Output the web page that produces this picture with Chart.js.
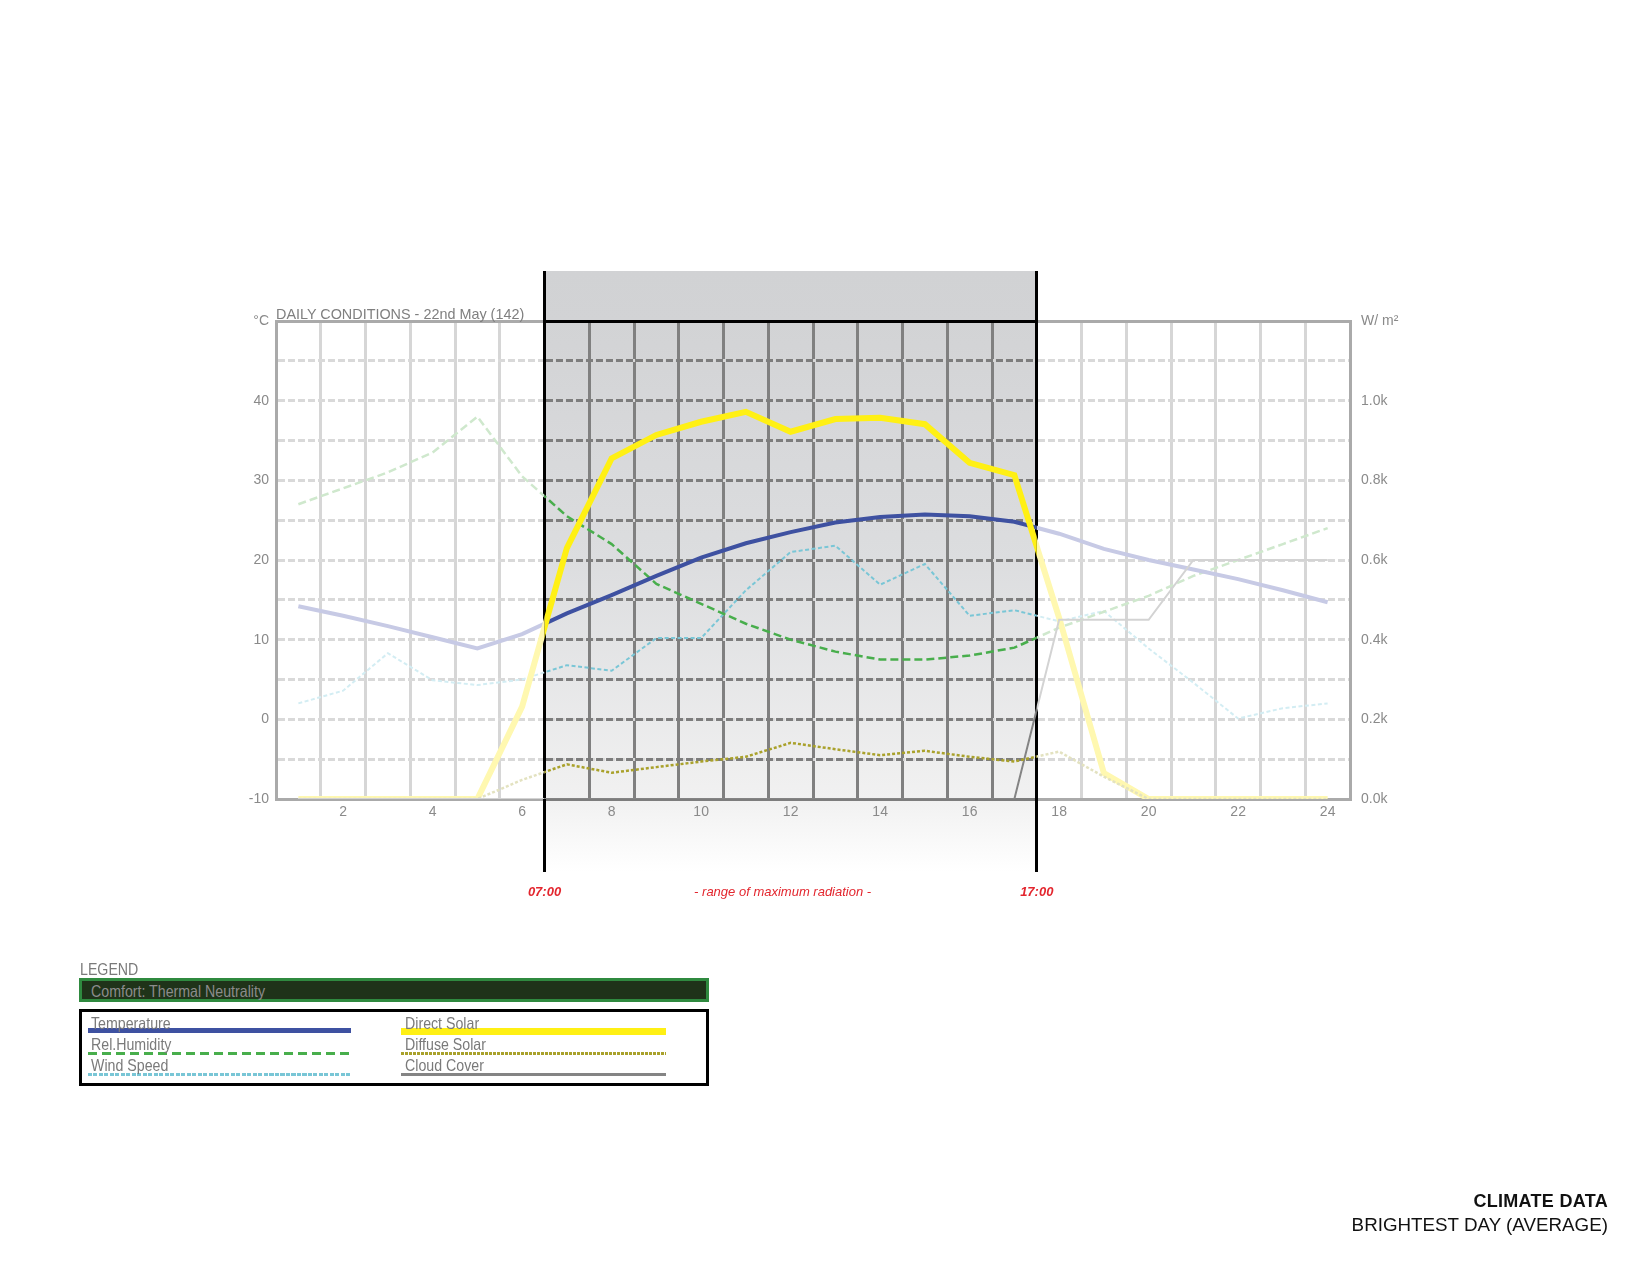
<!DOCTYPE html>
<html>
<head>
<meta charset="utf-8">
<title>Climate data - brightest day</title>
<script src="https://cdn.jsdelivr.net/npm/chart.js@4.4.1/dist/chart.umd.min.js"></script>
<style>
    body { margin: 0; background: #fff; font-family: "Liberation Sans", Arial, sans-serif; }
    #page { position: relative; width: 1651px; height: 1273px; overflow: hidden; }
    #chart { position: absolute; left: 0; top: 0; display: block; }
    .txt { position: absolute; white-space: nowrap; }
    .narrow { font-size: 16.5px; line-height: 16.5px; color: #7a7a7a; transform: scaleX(0.86); transform-origin: 0 0; }
    #chart-title { left: 276px; top: 307px; font-size: 14.4px; line-height: 14px; color: #7f7f7f; }
    #comfort { position: absolute; left: 79px; top: 978px; width: 630px; height: 24px; box-sizing: border-box;
               border: 3px solid #2f8a3f; background: #1f3319; }
    #legend-box { position: absolute; left: 79px; top: 1009px; width: 630px; height: 77px; box-sizing: border-box;
                  border: 3px solid #000; }
    .legend-line { position: absolute; }
    #sheet-title { right: 43px; top: 1193px; font-size: 18px; line-height: 16px; font-weight: bold; letter-spacing: 0.3px; color: #111; text-align: right; }
    #sheet-sub { right: 43px; top: 1216px; font-size: 18.8px; line-height: 18.8px; color: #111; text-align: right; }
</style>
</head>
<body>
<div id="page">
    <canvas id="chart" width="1651" height="1273"></canvas>
    <div class="txt" id="chart-title">DAILY CONDITIONS - 22nd May (142)</div>
    <div class="txt narrow" style="left:80px; top:961px;">LEGEND</div>
    <div id="comfort"></div>
    <div class="txt narrow" style="left:91px; top:983px; color:#8c8c8c;">Comfort: Thermal Neutrality</div>
    <div id="legend-box"></div>
    <div id="legend-items"></div>
    <div class="txt" id="sheet-title">CLIMATE DATA</div>
    <div class="txt" id="sheet-sub">BRIGHTEST DAY (AVERAGE)</div>
</div>

<script>
// Hourly values, 22nd May (hour of day 1..24)
const HOURS = [1, 2, 3, 4, 5, 6, 7, 8, 9, 10, 11, 12, 13, 14, 15, 16, 17, 18, 19, 20, 21, 22, 23, 24];

const TEMPERATURE = [14.2, 13.0, 11.7, 10.3, 8.9, 10.7, 13.3, 15.6, 18.0, 20.3, 22.1, 23.5,
                     24.7, 25.4, 25.7, 25.5, 24.8, 23.3, 21.4, 20.0, 18.8, 17.6, 16.2, 14.7];       // °C
const REL_HUMIDITY = [74, 78, 82, 87, 96, 81, 71, 64, 54, 49, 44, 40,
                      37, 35, 35, 36, 38, 43, 47, 51, 56, 60, 64, 68];                            // %
const WIND_SPEED = [2.0, 3.6, 8.3, 4.9, 4.3, 5.0, 6.8, 6.1, 10.2, 10.2, 16.2, 21.0,
                    21.8, 16.9, 19.5, 13.0, 13.7, 12.3, 13.6, 8.9, 4.6, 0.1, 1.4, 2.0];
const DIRECT_SOLAR = [0, 0, 0, 0, 0, 232, 630, 855, 914, 947, 972, 922,
                      954, 957, 941, 844, 813, 455, 65, 0, 0, 0, 0, 0];                           // W/m²
const DIFFUSE_SOLAR = [0, 0, 0, 0, 0, 48, 87, 66, 80, 94, 106, 141,
                       125, 110, 121, 106, 94, 119, 56, 0, 0, 0, 0, 0];                           // W/m²
const CLOUD_COVER = [0, 0, 0, 0, 0, 0, 0, 0, 0, 0, 0, 0,
                     0, 0, 0, 0, 0, 45, 45, 45, 60, 60, 60, 60];                                  // %

// first and last hour of the range of maximum radiation
const MAX_RADIATION_HOURS = [7, 17];
const WINDOW_LABELS = ['07:00', '17:00'];
const WINDOW_CAPTION = '- range of maximum radiation -';

// axis labels
const X_LABEL_HOURS = [2, 4, 6, 8, 10, 12, 14, 16, 18, 20, 22, 24];
const TEMP_LABELS = [-10, 0, 10, 20, 30, 40];
const SOLAR_LABELS = [0, 200, 400, 600, 800, 1000];

// drawing styles, topmost first
const SERIES = [
    { label: 'Direct Solar', data: DIRECT_SOLAR, axis: 'y1', color: '#fff014', faded: '#fff8b0', width: 6, dash: [], fadedOrder: 2, legend: { col: 1, row: 0, h: 7, dash: null } },
    { label: 'Temperature', data: TEMPERATURE, axis: 'y', color: '#3e51a1', faded: '#c7cae5', width: 4, dash: [], fadedOrder: 3, legend: { col: 0, row: 0, h: 5, dash: null } },
    { label: 'Rel.Humidity', data: REL_HUMIDITY, axis: 'yPct', color: '#48ae4c', faded: '#cfe8cd', width: 2.5, dash: [8, 4], fadedOrder: 4, legend: { col: 0, row: 1, h: 3, dash: [9, 5] } },
    { label: 'Wind Speed', data: WIND_SPEED, axis: 'y', color: '#79c6d6', faded: '#d3edf3', width: 2, dash: [4, 2.5], fadedOrder: 5, legend: { col: 0, row: 2, h: 3, dash: [4, 1.5] } },
    { label: 'Diffuse Solar', data: DIFFUSE_SOLAR, axis: 'y1', color: '#a9a12b', faded: '#e3e2c0', width: 2.5, dash: [3, 2], fadedOrder: 1, legend: { col: 1, row: 1, h: 3, dash: [3, 1] } },
    { label: 'Cloud Cover', data: CLOUD_COVER, axis: 'yPct', color: '#848484', faded: '#d3d3d3', width: 2, dash: [], fadedOrder: 0, legend: { col: 1, row: 2, h: 3, dash: null } }
];

const points = values => HOURS.map((h, i) => ({ x: h, y: values[i] }));
const alignPx = (v, w) => Math.round(v - w / 2) + w / 2;

function windowEdges(chart) {
    const x = chart.scales.x;
    return [x.getPixelForValue(MAX_RADIATION_HOURS[0] - 0.5), x.getPixelForValue(MAX_RADIATION_HOURS[1] + 0.5)];
}

// shaded band, dark grid, black frame and captions for the radiation window
const radiationWindow = {
    id: 'radiationWindow',
    beforeDraw(chart) {
        const { ctx, chartArea: a } = chart;
        const [x0, x1] = windowEdges(chart);
        const top = a.top - 50, bottom = a.bottom + 73;
        const f = y => (y - top) / (bottom - top);
        const g = ctx.createLinearGradient(0, top, 0, bottom);
        g.addColorStop(0, '#d1d2d4');
        g.addColorStop(f(a.top), '#d2d3d5');
        g.addColorStop(f((a.top + a.bottom) / 2), '#dcdddf');
        g.addColorStop(f(a.bottom), '#f1f1f1');
        g.addColorStop(1, '#ffffff');
        ctx.save();
        ctx.fillStyle = g;
        ctx.fillRect(x0, top, x1 - x0, bottom - top);
        ctx.restore();
    },
    beforeDatasetsDraw(chart) {
        const { ctx, chartArea: a, scales: { y } } = chart;
        const [x0, x1] = windowEdges(chart);
        ctx.save();
        ctx.beginPath();
        ctx.rect(x0, a.top - 5, x1 - x0, a.bottom - a.top + 10);
        ctx.clip();
        ctx.strokeStyle = '#7d7d7d';
        ctx.lineWidth = 3;
        ctx.setLineDash([7, 3]);
        ctx.beginPath();
        y.ticks.forEach(t => {
            if (t.value <= y.min || t.value >= y.max) return;
            const py = alignPx(y.getPixelForValue(t.value), 3);
            ctx.moveTo(a.left, py);
            ctx.lineTo(a.right, py);
        });
        ctx.stroke();
        ctx.setLineDash([]);
        ctx.beginPath();
        ctx.moveTo(x0, alignPx(a.bottom, 3));
        ctx.lineTo(x1, alignPx(a.bottom, 3));
        ctx.stroke();
        ctx.strokeStyle = '#000';
        ctx.beginPath();
        ctx.moveTo(x0, alignPx(a.top, 3));
        ctx.lineTo(x1, alignPx(a.top, 3));
        ctx.stroke();
        ctx.restore();

        ctx.save();
        ctx.strokeStyle = '#000';
        ctx.lineWidth = 3;
        ctx.beginPath();
        [x0, x1].forEach(xp => {
            ctx.moveTo(alignPx(xp, 3), a.top - 50);
            ctx.lineTo(alignPx(xp, 3), a.bottom + 73);
        });
        ctx.stroke();
        ctx.restore();
    },
    beforeDatasetDraw(chart, args) {
        const ds = chart.data.datasets[args.index];
        const { ctx, width, height } = chart;
        const [x0, x1] = windowEdges(chart);
        ctx.save();
        ctx.beginPath();
        if (ds.layer === 'bright') {
            ctx.rect(x0, 0, x1 - x0, height);
            ctx.clip();
        } else {
            ctx.rect(0, 0, width, height);
            ctx.rect(x0, 0, x1 - x0, height);
            ctx.clip('evenodd');
        }
    },
    afterDatasetDraw(chart) {
        chart.ctx.restore();
    },
    afterDraw(chart) {
        const { ctx, chartArea: a } = chart;
        const [x0, x1] = windowEdges(chart);
        const ty = a.bottom + 93;
        ctx.save();
        ctx.fillStyle = '#e3262e';
        ctx.textAlign = 'center';
        ctx.textBaseline = 'middle';
        ctx.font = 'italic bold 13px "Liberation Sans", Arial, sans-serif';
        ctx.fillText(WINDOW_LABELS[0], x0, ty);
        ctx.fillText(WINDOW_LABELS[1], x1, ty);
        ctx.font = 'italic 13px "Liberation Sans", Arial, sans-serif';
        ctx.fillText(WINDOW_CAPTION, (x0 + x1) / 2 - 8, ty);
        ctx.restore();
    }
};

const datasets = [];
SERIES.forEach((s, i) => {
    datasets.push({
        label: s.label, layer: 'bright', data: points(s.data), yAxisID: s.axis,
        borderColor: s.color, borderWidth: s.width, borderDash: s.dash, order: i,
        pointRadius: 0, fill: false, tension: 0
    });
});
SERIES.forEach(s => {
    datasets.push({
        label: s.label + ' (outside range)', layer: 'faded', data: points(s.data), yAxisID: s.axis,
        borderColor: s.faded, borderWidth: s.width, borderDash: s.dash, order: 10 + s.fadedOrder,
        pointRadius: 0, fill: false, tension: 0
    });
});

const gridX = [0.5].concat(HOURS.map(h => h + 0.5));
const tickFont = { family: '"Liberation Sans", Arial, sans-serif', size: 14 };
const tickColor = '#8a8a8a';

new Chart(document.getElementById('chart'), {
    type: 'line',
    data: { datasets },
    options: {
        responsive: false,
        animation: false,
        events: [],
        layout: { padding: { left: 0, right: 0, top: 321, bottom: 434 } },
        plugins: { legend: { display: false }, tooltip: { enabled: false } },
        scales: {
            x: {
                type: 'linear', position: 'bottom', min: 0.5, max: 24.5,
                afterBuildTicks: scale => { scale.ticks = gridX.map(v => ({ value: v })); },
                afterFit: scale => { scale.height = 40; },
                ticks: {
                    autoSkip: false, maxRotation: 0, padding: 5, labelOffset: 22.4,
                    color: tickColor, font: tickFont,
                    callback: v => X_LABEL_HOURS.includes(v + 0.5) ? String(v + 0.5) : ''
                },
                grid: {
                    drawTicks: false, lineWidth: 3,
                    color: c => {
                        const v = c.tick ? c.tick.value : null;
                        const [h0, h1] = MAX_RADIATION_HOURS;
                        if (v === null || v <= 0.5 || v >= 24.5 || v === h0 - 0.5 || v === h1 + 0.5) return 'rgba(0,0,0,0)';
                        return (v > h0 - 0.5 && v < h1 + 0.5) ? '#808080' : '#d6d6d6';
                    }
                },
                border: { color: '#aaaaaa', width: 3 }
            },
            xTop: {
                type: 'linear', position: 'top', min: 0.5, max: 24.5,
                afterFit: scale => { scale.height = 0; },
                ticks: { display: false },
                grid: { display: false, drawTicks: false },
                border: { color: '#aaaaaa', width: 3 }
            },
            y: {
                type: 'linear', position: 'left', min: -10, max: 50,
                afterFit: scale => { scale.width = 276; },
                ticks: {
                    stepSize: 5, padding: 7, color: tickColor, font: tickFont,
                    callback: v => v === 50 ? '°C' : (TEMP_LABELS.includes(v) ? String(v) : '')
                },
                grid: {
                    drawTicks: false, lineWidth: 3,
                    color: c => (c.tick && c.tick.value > -10 && c.tick.value < 50) ? '#d9d9d9' : 'rgba(0,0,0,0)'
                },
                border: { color: '#aaaaaa', width: 3, dash: [7, 3] }
            },
            y1: {
                type: 'linear', position: 'right', min: 0, max: 1200,
                afterFit: scale => { scale.width = 301; },
                ticks: {
                    stepSize: 100, padding: 11, color: tickColor, font: tickFont,
                    callback: v => v === 1200 ? 'W/ m²' : (SOLAR_LABELS.includes(v) ? (v / 1000).toFixed(1) + 'k' : '')
                },
                grid: { display: false, drawTicks: false },
                border: { color: '#aaaaaa', width: 3 }
            },
            yPct: { type: 'linear', display: false, min: 0, max: 120 }
        }
    },
    plugins: [radiationWindow]
});

// legend built from the series styles
const legendHolder = document.getElementById('legend-items');
const colText = [91, 405], colLine = [[88, 263], [401, 265]];
const rowText = [1015, 1036, 1057], rowLine = [1029, 1052, 1073];
SERIES.forEach(s => {
    const L = s.legend;
    const line = document.createElement('div');
    line.className = 'legend-line';
    line.style.left = colLine[L.col][0] + 'px';
    line.style.width = colLine[L.col][1] + 'px';
    line.style.top = (rowLine[L.row] - (L.h > 3 ? 1 : 0)) + 'px';
    line.style.height = L.h + 'px';
    line.style.background = L.dash
        ? `repeating-linear-gradient(to right, ${s.color} 0 ${L.dash[0]}px, transparent ${L.dash[0]}px ${L.dash[0] + L.dash[1]}px)`
        : s.color;
    legendHolder.appendChild(line);

    const text = document.createElement('div');
    text.className = 'txt narrow';
    text.style.left = colText[L.col] + 'px';
    text.style.top = rowText[L.row] + 'px';
    text.textContent = s.label;
    legendHolder.appendChild(text);
});
</script>
</body>
</html>
